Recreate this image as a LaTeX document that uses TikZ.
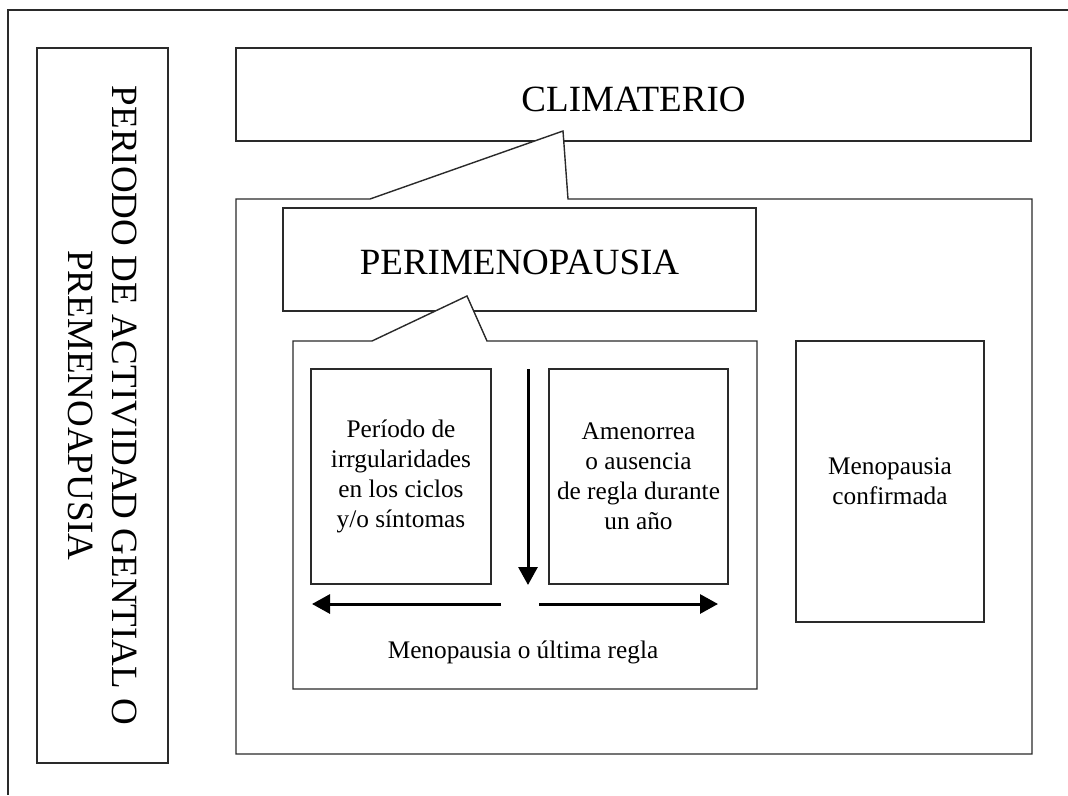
\documentclass[tikz,border=0pt]{standalone}
\usepackage{fontspec}
\setmainfont{Liberation Serif}
\usetikzlibrary{arrows.meta}
\definecolor{edge}{HTML}{2A2A2A}
\tikzset{
  box/.style={draw=edge, line width=1.4pt, fill=white, rectangle, inner sep=2pt, align=center},
  bigfont/.style={font=\fontsize{37}{44}\selectfont},
  smallfont/.style={font=\fontsize{25.3}{30}\selectfont},
  callout/.style={draw=edge, line width=1.4pt, fill=white, line join=miter},
  bigarrow/.style={line width=3pt, -{Triangle[length=18pt,width=19pt]}}
}
\begin{document}
\begin{tikzpicture}[x=1pt,y=-1pt]
\useasboundingbox[fill=white] (0,0) rectangle (1068,795);
% outer frame (cut at right and bottom)
\draw[edge, line width=1.4pt] (1068,10) -- (8,10) -- (8,795);

% left vertical box
\node[box, bigfont, rotate=-90, minimum width=715pt, minimum height=131pt] (pre) at (102.5,405.5)
  {PERIODO DE ACTIVIDAD GENTIAL O\\PREMENOAPUSIA};

% climaterio
\node[box, bigfont, text height=33pt, text depth=0pt, minimum width=795pt, minimum height=93pt] (clim) at (633.5,94.5) {CLIMATERIO};

% big callout box
\coordinate (bigTL) at (236,199);
\coordinate (bigA) at (370,199);
\coordinate (bigTip) at (563,131);
\coordinate (bigB) at (568,199);
\coordinate (bigTR) at (1032,199);
\coordinate (bigBR) at (1032,754);
\coordinate (bigBL) at (236,754);
\draw[callout] (bigTL) -- (bigA) -- (bigTip) -- (bigB) -- (bigTR) -- (bigBR) -- (bigBL) -- cycle;

% perimenopausia
\node[box, bigfont, text height=29.5pt, text depth=0pt, minimum width=473pt, minimum height=103pt] (peri) at (519.5,259.5) {PERIMENOPAUSIA};

% inner callout box
\coordinate (inTL) at (293,341);
\coordinate (inA) at (372,341);
\coordinate (inTip) at (467,296);
\coordinate (inB) at (487,341);
\coordinate (inTR) at (757,341);
\coordinate (inBR) at (757,689);
\coordinate (inBL) at (293,689);
\draw[callout] (inTL) -- (inA) -- (inTip) -- (inB) -- (inTR) -- (inBR) -- (inBL) -- cycle;

% inner boxes
\node[box, smallfont, minimum width=180pt, minimum height=215pt] (irr) at (401,476.5)
  {Período de\\irrgularidades\\en los ciclos\\y/o síntomas};
\node[box, smallfont, minimum width=179pt, minimum height=215pt] (amen) at (638.5,476.5)
  {Amenorrea\\o ausencia\\de regla durante\\un año};
\node[box, smallfont, minimum width=188pt, minimum height=281pt] (conf) at (890,481.5)
  {Menopausia\\confirmada};

\node[smallfont, inner sep=0pt] (ult) at (523,652) {Menopausia o última regla};

% arrows
\coordinate (dTop) at (528,369);
\coordinate (dBot) at (528,585);
\coordinate (lS) at (501,604);
\coordinate (lE) at (312,604);
\coordinate (rS) at (539,604);
\coordinate (rE) at (718,604);
\draw[bigarrow] (dTop) -- (dBot);
\draw[bigarrow] (lS) -- (lE);
\draw[bigarrow] (rS) -- (rE);
\end{tikzpicture}
\end{document}
